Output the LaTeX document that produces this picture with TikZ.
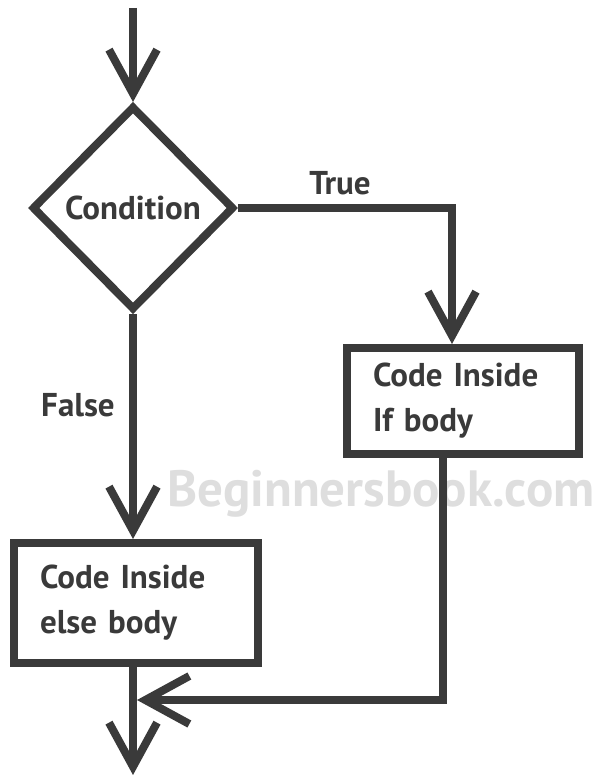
\documentclass[tikz,border=0pt]{standalone}
\usepackage{fontspec}
\setmainfont{PT Sans}[WordSpace=0.6]
\usetikzlibrary{arrows.meta}
\usetikzlibrary{shapes.geometric}
\definecolor{ink}{HTML}{3A3A3A}
\definecolor{mark}{HTML}{DEDEDE}
\tikzset{%
  flowedge/.style={-{Straight Barb[length=22pt, width=24pt, sharp]}, line width=4pt, draw=ink},
  decide/.style={diamond, draw=ink, line width=4pt, minimum width=101pt, minimum height=102pt, inner sep=0pt},
  codebox/.style={rectangle, draw=ink, line width=4pt, align=left, text width=#1, inner xsep=13pt},
  flowtext/.style={text=ink, font=\fontsize{16.5}{22.5}\selectfont\bfseries}
}

\begin{document}
\begin{tikzpicture}[x=0.5pt, y=-0.5pt]
  \useasboundingbox (0,0) rectangle (593,775);

% watermark
\node [text=mark, font=\fontsize{25.5}{25.5}\selectfont\bfseries, anchor=west, inner sep=0pt] (wm) at (167,494) {Beginnersbook.com};

% blocks
\node [decide, flowtext] (cond) at (133,208) {Condition};
\node [codebox=90pt, flowtext, minimum height=53pt] (ifbody) at (463,401) {Code Inside\\If body};
\node [codebox=96pt, flowtext, minimum height=60pt] (elsebody) at (136,603) {Code Inside\\else body};

\coordinate (start) at (133,8);
\coordinate (finish) at (133,775);
\coordinate (join) at (137,700);

% labels
\node [flowtext] (true) at (340,183) {True};
\node [flowtext] (false) at (78,405) {False};

% edges
\draw [flowedge] (start) -- (cond.north);
\draw [flowedge] (cond.east) -| ([xshift=-5.5pt]ifbody.north);
\draw [flowedge] (cond.south) -- (cond.south |- elsebody.north);
\draw [flowedge] (elsebody.south -| cond.south) -- (finish);
\draw [flowedge] ([xshift=-10pt]ifbody.south) |- (join);

\end{tikzpicture}
\end{document}
